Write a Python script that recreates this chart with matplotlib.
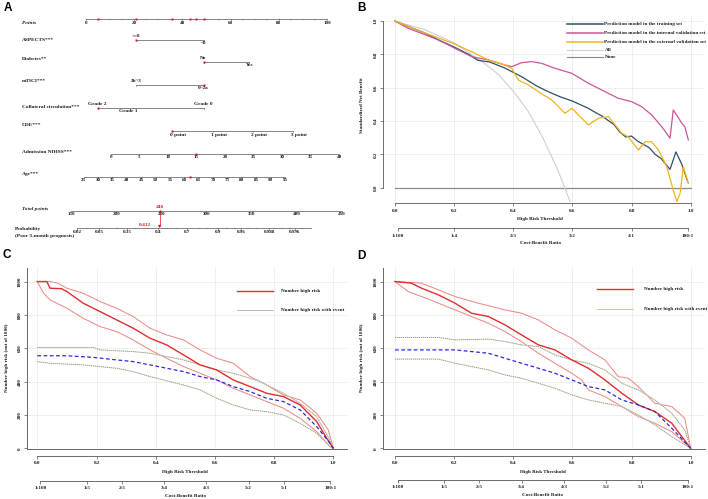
import numpy as np
import matplotlib
matplotlib.use("Agg")
import matplotlib.pyplot as plt
from matplotlib.lines import Line2D

W, H = 708, 499
SERIF = ['Liberation Serif', 'DejaVu Serif']
SANS = ['Liberation Sans', 'DejaVu Sans']
FS = 3.7
AXC = '#555555'
TXT = '#1a1a1a'

# ---------------- Panel A data (nomogram) ----------------
aspects_levels = [">=8", "<8"]
aspects_pts = [20.7, 48.8]
diabetes_levels = ["No", "Yes"]
diabetes_pts = [48.8, 67.8]
mtici_levels = ["2b~3", "0~2a"]
mtici_pts = [20.7, 48.8]
collat_levels = ["Grade 2", "Grade 1", "Grade 0"]
collat_pts = [4.8, 17.4, 48.8]
cde_levels = ["0 point", "1 point", "2 point", "3 point"]
cde_pts = [35.8, 52.5, 69.2, 86.0]
nihss_ticks = [0, 5, 10, 15, 20, 25, 30, 35, 40]
nihss_pts_range = [10.25, 105.0]
age_ticks = [25, 30, 35, 40, 45, 50, 55, 60, 65, 70, 75, 80, 85, 90, 95]
age_pts_range = [-1.0, 82.6]
points_ticks = [0, 20, 40, 60, 80, 100]
total_ticks = [150, 200, 250, 300, 350, 400, 450]
total_pts_range = [-6.2, 106.2]
prob_ticks = [0.02, 0.05, 0.15, 0.4, 0.7, 0.9, 0.96, 0.988, 0.996]
prob_labels = ["0.02", "0.05", "0.15", "0.4", "0.7", "0.9", "0.96", "0.988", "0.996"]
prob_intercept, prob_scale = 256.6, 25.6   # total points = a + b*logit(p)
patient_selected_pts = [4.8, 20.7, 35.8, 43.0, 45.8, 48.8]
patient_age, patient_nihss = 62, 15
patient_total = 248
patient_prob = 0.412

# ---------------- Panel B data (DCA) ----------------
train_t = [0.00, 0.05, 0.10, 0.15, 0.20, 0.25, 0.28, 0.32, 0.37, 0.43, 0.48, 0.52, 0.56, 0.60, 0.65, 0.70,
           0.74, 0.76, 0.78, 0.80, 0.82, 0.84, 0.86, 0.88, 0.90, 0.93, 0.95, 0.97, 0.99]
train_v = [1.00, 0.965, 0.93, 0.885, 0.845, 0.80, 0.765, 0.755, 0.72, 0.665, 0.61, 0.575, 0.545, 0.52, 0.48, 0.43,
           0.38, 0.335, 0.305, 0.31, 0.28, 0.26, 0.24, 0.20, 0.175, 0.11, 0.215, 0.14, 0.035]
internal_t = [0, 0.045, 0.09, 0.147, 0.203, 0.259, 0.316, 0.372, 0.395, 0.428, 0.462, 0.496, 0.541, 0.598,
              0.654, 0.71, 0.755, 0.8, 0.834, 0.868, 0.902, 0.93, 0.941, 0.955, 0.97, 0.98, 0.992]
internal_v = [1.0, 0.957, 0.927, 0.887, 0.837, 0.787, 0.767, 0.737, 0.727, 0.751, 0.757, 0.747, 0.717, 0.687,
              0.627, 0.577, 0.537, 0.517, 0.487, 0.437, 0.367, 0.297, 0.467, 0.43, 0.387, 0.367, 0.287]
external_t = [0, 0.09, 0.203, 0.259, 0.316, 0.372, 0.395, 0.417, 0.451, 0.485, 0.53, 0.575, 0.598, 0.654,
              0.688, 0.722, 0.767, 0.789, 0.823, 0.846, 0.868, 0.891, 0.919, 0.941, 0.953, 0.964, 0.975, 0.992]
external_v = [1.0, 0.937, 0.862, 0.817, 0.767, 0.737, 0.717, 0.647, 0.617, 0.577, 0.527, 0.447, 0.477, 0.377,
              0.417, 0.427, 0.327, 0.306, 0.226, 0.276, 0.276, 0.226, 0.126, -0.014, -0.084, -0.034, 0.126, 0.026]
all_t = [0, 0.1, 0.2, 0.3, 0.35, 0.4, 0.45, 0.5, 0.55, 0.592]
all_v = [1.0, 0.95, 0.87, 0.75, 0.68, 0.58, 0.46, 0.30, 0.11, -0.084]
none_t = [0, 1]
none_v = [0, 0]
dca_labels = ["Prediction model in the training set", "Prediction model in the internal validation set",
              "Prediction model in the external validation set", "All", "None"]
dca_colors = ['#2f5063', '#c9579a', '#f2b31f', '#cfcfcf', '#8a8a8a']

# ---------------- Panel C data (clinical impact) ----------------
c_risk_t = [0, 0.032, 0.043, 0.082, 0.1, 0.155, 0.212, 0.268, 0.324, 0.381, 0.437, 0.494, 0.55, 0.606, 0.662,
            0.719, 0.775, 0.832, 0.888, 0.944, 0.978, 1.0]
c_risk = [1000, 1000, 960, 957, 940, 870, 820, 770, 720, 660, 620, 560, 500, 470, 410, 370, 330, 310, 260, 160, 60, 0]
c_risk_hi_t = [0, 0.043, 0.07, 0.1, 0.155, 0.212, 0.268, 0.324, 0.381, 0.437, 0.494, 0.55, 0.606, 0.662, 0.719,
               0.764, 0.832, 0.888, 0.944, 0.983, 1.0]
c_risk_hi = [1000, 1000, 990, 960, 930, 880, 840, 790, 720, 680, 650, 590, 540, 510, 430, 390, 320, 290, 210, 110, 0]
c_risk_lo_t = [0, 0.021, 0.043, 0.1, 0.155, 0.212, 0.268, 0.324, 0.381, 0.437, 0.494, 0.55, 0.606, 0.662, 0.719,
               0.775, 0.832, 0.888, 0.944, 0.989, 1.0]
c_risk_lo = [1000, 930, 890, 840, 780, 730, 700, 650, 590, 540, 490, 450, 410, 360, 320, 280, 240, 180, 100, 10, 0]
c_event_t = [0, 0.1, 0.19, 0.268, 0.324, 0.381, 0.437, 0.494, 0.55, 0.606, 0.662, 0.719, 0.775, 0.832, 0.888,
             0.944, 0.989, 1.0]
c_event = [555, 555, 545, 530, 520, 500, 480, 460, 430, 410, 370, 340, 300, 280, 230, 130, 30, 0]
c_event_hi_t = [0, 0.19, 0.212, 0.324, 0.381, 0.437, 0.494, 0.55, 0.606, 0.662, 0.719, 0.753, 0.832, 0.888,
                0.944, 0.989, 1.0]
c_event_hi = [605, 605, 590, 580, 570, 550, 530, 500, 470, 450, 420, 400, 330, 270, 190, 50, 0]
c_event_lo_t = [0, 0.043, 0.155, 0.268, 0.324, 0.381, 0.437, 0.494, 0.55, 0.606, 0.662, 0.719, 0.775, 0.832,
                0.888, 0.944, 0.989, 1.0]
c_event_lo = [520, 510, 500, 480, 460, 430, 405, 380, 350, 300, 260, 230, 220, 200, 150, 90, 10, 0]

# ---------------- Panel D data (clinical impact) ----------------
d_risk_t = [0, 0.056, 0.09, 0.147, 0.203, 0.259, 0.316, 0.372, 0.428, 0.485, 0.541, 0.598, 0.654, 0.71, 0.767,
            0.823, 0.879, 0.936, 0.97, 1.0]
d_risk = [1000, 990, 960, 920, 870, 810, 790, 740, 680, 620, 590, 530, 480, 410, 330, 260, 220, 150, 70, 0]
d_risk_hi_t = [0, 0.09, 0.147, 0.203, 0.282, 0.372, 0.428, 0.485, 0.541, 0.598, 0.654, 0.71, 0.755, 0.789,
               0.823, 0.879, 0.936, 0.98, 1.0]
d_risk_hi = [1000, 990, 950, 910, 870, 830, 810, 770, 710, 660, 590, 530, 430, 420, 370, 270, 250, 180, 0]
d_risk_lo_t = [0, 0.045, 0.09, 0.147, 0.203, 0.259, 0.316, 0.372, 0.428, 0.485, 0.541, 0.598, 0.631, 0.654,
               0.71, 0.767, 0.823, 0.879, 0.936, 1.0]
d_risk_lo = [1000, 940, 910, 870, 830, 790, 750, 700, 640, 570, 510, 450, 410, 350, 310, 250, 190, 150, 100, 0]
d_event_t = [0, 0.203, 0.316, 0.372, 0.428, 0.485, 0.541, 0.598, 0.654, 0.71, 0.767, 0.823, 0.879, 0.936, 1.0]
d_event = [590, 590, 570, 540, 510, 480, 450, 410, 370, 350, 290, 260, 220, 120, 0]
d_event_hi_t = [0, 0.147, 0.203, 0.316, 0.372, 0.428, 0.485, 0.541, 0.598, 0.654, 0.71, 0.767, 0.823, 0.879,
                0.936, 0.98, 1.0]
d_event_hi = [665, 665, 650, 655, 640, 620, 610, 560, 530, 510, 470, 390, 350, 290, 210, 110, 0]
d_event_lo_t = [0, 0.147, 0.203, 0.259, 0.316, 0.372, 0.428, 0.485, 0.541, 0.598, 0.654, 0.71, 0.767, 0.823,
                0.879, 0.936, 1.0]
d_event_lo = [535, 535, 510, 490, 470, 440, 420, 390, 360, 320, 290, 270, 250, 200, 140, 70, 0]

impact_labels = ["Number high risk", "Number high risk with event"]
thr_ticks = [0.0, 0.2, 0.4, 0.6, 0.8, 1.0]
thr_labels = ["0.0", "0.2", "0.4", "0.6", "0.8", "1.0"]
cb_b_pairs = [(1, 100), (1, 4), (2, 3), (3, 2), (4, 1), (100, 1)]
cb_cd_pairs = [(1, 100), (1, 5), (2, 5), (3, 4), (4, 3), (5, 2), (5, 1), (100, 1)]

# ==========================================================
fig = plt.figure(figsize=(W / 100, H / 100), dpi=100)


def box(l, t, r, b):
    return [l / W, 1 - b / H, (r - l) / W, (b - t) / H]


def ftext(x, y, s, **kw):
    kw.setdefault('fontfamily', SERIF)
    kw.setdefault('fontweight', 'bold')
    kw.setdefault('fontsize', FS)
    kw.setdefault('color', TXT)
    kw.setdefault('ha', 'center')
    kw.setdefault('va', 'center')
    fig.text(x / W, 1 - y / H, s, **kw)


def fline(x1, x2, y, **kw):
    fig.add_artist(Line2D([x1 / W, x2 / W], [1 - y / H, 1 - y / H], transform=fig.transFigure, **kw))


def style_ticks(ax, axis, labels_rot=0):
    ax.tick_params(axis=axis, length=2.3, width=0.5, color=AXC, labelsize=FS, labelcolor=TXT, pad=1.6,
                   labelrotation=labels_rot)
    lbls = ax.get_xticklabels() if axis == 'x' else ax.get_yticklabels()
    for lb in lbls:
        lb.set_fontfamily(SERIF)
        lb.set_fontweight('bold')


def hax(l, r, y, xlim, ticks, labels, bounds):
    a = fig.add_axes(box(l, y - 1, r, y))
    a.set_xlim(xlim)
    a.set_ylim(0, 1)
    a.patch.set_visible(False)
    for s in ['top', 'left', 'right']:
        a.spines[s].set_visible(False)
    a.spines['bottom'].set_bounds(*bounds)
    a.spines['bottom'].set_color(AXC)
    a.spines['bottom'].set_linewidth(0.6)
    a.set_yticks([])
    a.set_xticks(ticks)
    a.set_xticklabels(labels)
    style_ticks(a, 'x')
    return a


# ---------------- Panel letters ----------------
for lt, (x, y) in zip("ABCD", [(8, 8), (361, 8), (7, 255), (361, 256)]):
    fig.text(x / W, 1 - y / H, lt, fontfamily=SANS, fontweight='bold', fontsize=8.5, ha='center', va='center')

# ---------------- Panel A ----------------
PPX = 100 / 241.0
axA = fig.add_axes(box(0, 0, 355, 250))
axA.set_xlim(-86 * PPX, (355 - 86) * PPX)
axA.set_ylim(250, 0)
axA.axis('off')
LC = '#666666'
RED = '#e8141c'


def atext(x, y, s, **kw):
    kw.setdefault('fontfamily', SERIF)
    kw.setdefault('fontweight', 'bold')
    kw.setdefault('fontsize', 3.8)
    kw.setdefault('color', TXT)
    kw.setdefault('ha', 'center')
    kw.setdefault('va', 'center')
    axA.text(x, y, s, **kw)


def cont_axis(y, p0, p1, vmin, vmax, labels_vals, minor_step, label_dy=3.6, tick=1.3, lw=0.55):
    axA.plot([p0, p1], [y, y], color=LC, lw=lw, solid_capstyle='butt')
    def v2p(v):
        return p0 + (v - vmin) / (vmax - vmin) * (p1 - p0)
    if minor_step:
        mv = np.arange(vmin, vmax + 1e-9, minor_step)
        for v in mv:
            axA.plot([v2p(v)] * 2, [y, y + tick * 0.6], color=LC, lw=0.35)
    for v in labels_vals:
        axA.plot([v2p(v)] * 2, [y, y + tick], color=LC, lw=0.45)
        atext(v2p(v), y + label_dy, str(v), fontsize=3.6)
    return v2p


label_x = -26.5
row_labels = [("Points", 22.5, True), ("ASPECTS***", 40, False), ("Diabetes**", 58.7, False),
              ("mTICI***", 81, False), ("Collateral circulation***", 107, False), ("CDE***", 125, False),
              ("Admission NIHSS***", 152.3, False), ("Age***", 174.3, False), ("Total points", 209.3, True)]
for s, y, it in row_labels:
    atext(label_x, y, s, ha='left', fontstyle='italic' if it else 'normal', fontsize=3.9)
atext(label_x - 2.9, 229, "Probability", ha='left', fontsize=3.9)
atext(label_x - 2.9, 236, "(Poor 3-month prognosis)", ha='left', fontsize=3.9)

# Points axis
cont_axis(19, 0, 100, 0, 100, points_ticks, 5)
axA.plot(patient_selected_pts, [19] * len(patient_selected_pts), 's', color=RED, ms=1.9, mec='none')


def cat_row(y, pts, levels, pos, sel):
    axA.plot([min(pts), max(pts)], [y, y], color=LC, lw=0.55)
    for p in [min(pts), max(pts)]:
        axA.plot([p, p], [y, y + 1.4], color=LC, lw=0.45)
    for p, lv, ps in zip(pts, levels, pos):
        if ps == 'up':
            atext(p, y - 3.6, lv)
        elif ps == 'down':
            atext(p, y + 3.4, lv)
    axA.plot([pts[sel]], [y], 's', color=RED, ms=1.9, mec='none')


cat_row(40, aspects_pts, aspects_levels, ['up', 'down'], 0)
cat_row(62, diabetes_pts, diabetes_levels, ['up', 'down'], 0)
cat_row(85, mtici_pts, mtici_levels, ['up', 'down'], 1)
cat_row(108, collat_pts, collat_levels, ['up', 'down', 'up'], 0)

# CDE
axA.plot([cde_pts[0], cde_pts[-1]], [131, 131], color=LC, lw=0.55)
for p, lv in zip(cde_pts, cde_levels):
    axA.plot([p, p], [131, 132.5], color=LC, lw=0.45)
    atext(p - 0.8, 134.8, lv, ha='left')
axA.plot([cde_pts[0]], [131], 's', color=RED, ms=1.9, mec='none')

# NIHSS
v2p_n = cont_axis(153.7, nihss_pts_range[0], nihss_pts_range[1], 0, 40, nihss_ticks, 1)
axA.plot([v2p_n(patient_nihss)], [153.7], 's', color=RED, ms=1.9, mec='none')
# Age
v2p_a = cont_axis(176.7, age_pts_range[0], age_pts_range[1], 25, 95, age_ticks, 1)
axA.plot([v2p_a(patient_age)], [176.7], 's', color=RED, ms=1.9, mec='none')
# Total points
v2p_t = cont_axis(210.7, total_pts_range[0], total_pts_range[1], 150, 450, total_ticks, 10)
xt = v2p_t(patient_total)
axA.plot([xt], [210.7], 's', color=RED, ms=2.0, mec='none')
atext(xt, 206.7, str(patient_total), color=RED, fontsize=3.9)


# Probability axis
def prob2x(p):
    return v2p_t(prob_intercept + prob_scale * np.log(p / (1 - p)))


pmin, pmax = 0.02, 0.998
axA.plot([prob2x(pmin), prob2x(pmax)], [228.3, 228.3], color=LC, lw=0.55)
minor_probs = [0.03, 0.1, 0.2, 0.3, 0.5, 0.6, 0.8, 0.85, 0.93, 0.95, 0.97, 0.98, 0.985, 0.99, 0.993, 0.995, 0.997]
for p in minor_probs:
    axA.plot([prob2x(p)] * 2, [228.3, 228.3 + 0.8], color=LC, lw=0.35)
for p, lb in zip(prob_ticks, prob_labels):
    axA.plot([prob2x(p)] * 2, [228.3, 229.6], color=LC, lw=0.45)
    atext(prob2x(p), 232.3, lb, fontsize=3.6)
axA.plot([xt, xt], [210.7, 226.5], color=RED, lw=0.5)
axA.plot([prob2x(patient_prob)], [226.3], 'v', color=RED, ms=2.3, mec='none')
atext(prob2x(patient_prob) - 3.2, 225.3, f"{patient_prob}", color=RED, ha='right', fontsize=3.9)

# ---------------- Panel B ----------------
axB = fig.add_axes(box(383.3, 15, 703, 203.3))
axB.set_xlim((383.3 - 395) / 295.7, (703 - 395) / 295.7)
axB.set_ylim((187.7 - 203.3) / 166.5, (187.7 - 15) / 166.5)
for gx in thr_ticks:
    axB.axvline(gx, color='#ececec', lw=0.6, zorder=0)
for gy in [0.2, 0.4, 0.6, 0.8, 1.0]:
    axB.axhline(gy, color='#ececec', lw=0.6, zorder=0)
axB.plot(none_t, none_v, color=dca_colors[4], lw=0.9)
axB.plot(all_t, all_v, color=dca_colors[3], lw=0.8)
axB.plot(train_t, train_v, color=dca_colors[0], lw=0.9)
axB.plot(internal_t, internal_v, color=dca_colors[1], lw=0.9)
axB.plot(external_t, external_v, color=dca_colors[2], lw=0.9)
for s in ['top', 'right']:
    axB.spines[s].set_visible(False)
axB.spines['left'].set_bounds(0, 1)
axB.spines['bottom'].set_bounds(0, 1)
for s in ['left', 'bottom']:
    axB.spines[s].set_color(AXC)
    axB.spines[s].set_linewidth(0.6)
axB.set_xticks(thr_ticks)
axB.set_xticklabels(thr_labels)
axB.set_yticks([0.0, 0.2, 0.4, 0.6, 0.8, 1.0])
axB.set_yticklabels(["0.0", "0.2", "0.4", "0.6", "0.8", "1.0"], va='center')
style_ticks(axB, 'x')
style_ticks(axB, 'y', 90)
ftext(362, 105, "Standardized Net Benefit", rotation=90)
ftext(540, 219.3, "High Risk Threshold")
xlB = axB.get_xlim()
hax(383.3, 703, 228.3, xlB, [a / (a + b) for a, b in cb_b_pairs], [f"{a}:{b}" for a, b in cb_b_pairs],
    (0.01, 0.99))
ftext(540, 243.3, "Cost:Benefit Ratio")
# legend B
for i, (lb, c) in enumerate(zip(dca_labels, dca_colors)):
    y = [24.3, 33.3, 42, 49.7, 57.3][i]
    fline(566.7, 603.3, y, color=c, lw=1.1 if i < 3 else 0.8)
    ftext(604.5, y, lb, ha='left')


# ---------------- Panels C and D ----------------
def impact_panel(l, r, x0, scale, rsk, ev, ev_fill, legend_line_x, text_x, leg_y, ev_leg_color, ylab_x,
                 hr_y, cb_y):
    ax = fig.add_axes(box(l, 267.7, r, 449.3))
    ax.set_xlim((l - x0) / scale, (r - x0) / scale)
    ax.set_ylim(-6, 1083)
    for gx in thr_ticks:
        ax.axvline(gx, color='#ececec', lw=0.6, zorder=0)
    for gy in [200, 400, 600, 800, 1000]:
        ax.axhline(gy, color='#ececec', lw=0.6, zorder=0)
    (rt, rv), (rht, rhv), (rlt, rlv) = rsk
    (et, evv), (eht, ehv), (elt, elv) = ev
    ax.plot(rht, rhv, color='#ee8a8a', lw=0.75)
    ax.plot(rlt, rlv, color='#ee8a8a', lw=0.75)
    ax.plot(eht, ehv, color=ev_fill, lw=0.7)
    ax.plot(elt, elv, color=ev_fill, lw=0.7)
    ax.plot(eht, ehv, color='#8585c8', lw=0.6, ls=(0, (1.2, 1.2)))
    ax.plot(elt, elv, color='#8585c8', lw=0.6, ls=(0, (1.2, 1.2)))
    ax.plot(rt, rv, color='#e32d2d', lw=1.0)
    ax.plot(et, evv, color='#2b2bdc', lw=0.9, ls=(0, (3, 2)))
    for s in ['top', 'right']:
        ax.spines[s].set_visible(False)
    for s in ['left', 'bottom']:
        ax.spines[s].set_color('#666666')
        ax.spines[s].set_linewidth(0.7)
    ax.set_xticks([])
    ax.set_yticks([0, 200, 400, 600, 800, 1000])
    ax.set_yticklabels(["0", "200", "400", "600", "800", "1000"], va='center')
    style_ticks(ax, 'y', 90)
    xl = ax.get_xlim()
    hax(l, r, hr_y, xl, thr_ticks, thr_labels, (0, 1))
    mid = x0 + 0.5 * scale
    ftext(mid, hr_y + 16, "High Risk Threshold")
    hax(l, r, cb_y, xl, [a / (a + b) for a, b in cb_cd_pairs], [f"{a}:{b}" for a, b in cb_cd_pairs],
        (0.01, 0.99))
    ftext(mid, cb_y + 15.3, "Cost:Benefit Ratio")
    ftext(ylab_x, 358, "Number high risk (out of 1000)", rotation=90)
    fline(legend_line_x[0], legend_line_x[1], leg_y[0], color='#e32d2d', lw=1.0)
    fline(legend_line_x[0], legend_line_x[1], leg_y[1], color=ev_fill, lw=0.7)
    fline(legend_line_x[0], legend_line_x[1], leg_y[1], color=ev_leg_color, lw=0.6, ls=(0, (1.2, 1.2)))
    ftext(text_x, leg_y[0], impact_labels[0], ha='left')
    ftext(text_x, leg_y[1], impact_labels[1], ha='left')
    return ax


impact_panel(27, 347, 37.3, 296,
             [(c_risk_t, c_risk), (c_risk_hi_t, c_risk_hi), (c_risk_lo_t, c_risk_lo)],
             [(c_event_t, c_event), (c_event_hi_t, c_event_hi), (c_event_lo_t, c_event_lo)],
             '#e6e6a0', (236.7, 273.3), 281, (291, 310), '#7a7ad0', 7, 455.7, 480.7)
impact_panel(383.3, 705, 395, 295.7,
             [(d_risk_t, d_risk), (d_risk_hi_t, d_risk_hi), (d_risk_lo_t, d_risk_lo)],
             [(d_event_t, d_event), (d_event_hi_t, d_event_hi), (d_event_lo_t, d_event_lo)],
             '#e6e6a0', (596.7, 633.3), 644.3, (289, 309.3), '#a0a0a0', 362, 456, 480)

fig.savefig("out.png", dpi=100)
